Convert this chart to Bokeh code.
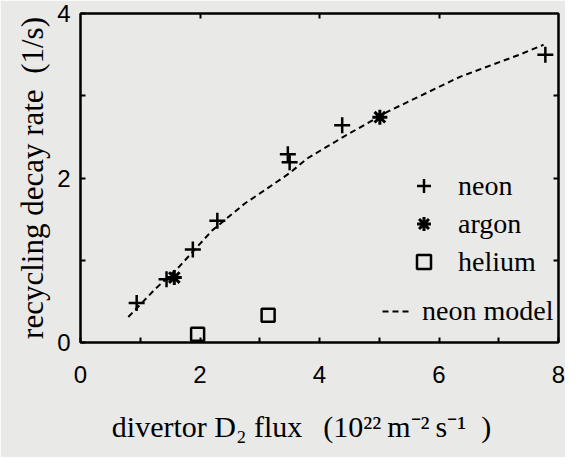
from bokeh.plotting import figure
from bokeh.models import Range1d, LinearAxis, FixedTicker, Legend, LegendItem
from bokeh.embed import file_html
from bokeh.resources import INLINE

# ---- data ----
neon_x = [0.94, 1.44, 1.88, 2.29, 3.47, 3.50, 4.38, 7.78]
neon_y = [0.48, 0.77, 1.13, 1.48, 2.29, 2.19, 2.64, 3.50]
argon_x = [1.57, 5.01]
argon_y = [0.79, 2.74]
helium_x = [1.96, 3.14]
helium_y = [0.10, 0.33]
model_x = [0.8, 1.25, 1.65, 2.2, 2.75, 3.1, 3.5, 3.8, 4.4, 5.15, 6.35, 7.35, 7.75]
model_y = [0.31, 0.65, 0.92, 1.36, 1.69, 1.86, 2.06, 2.24, 2.50, 2.81, 3.23, 3.50, 3.62]

x_ticks = [0, 1, 2, 3, 4, 5, 6, 7, 8]
x_labels = {0: "0", 1: "", 2: "2", 3: "", 4: "4", 5: "", 6: "6", 7: "", 8: "8"}
y_ticks = [0, 1, 2, 3, 4]
y_labels = {0: "0", 1: "", 2: "2", 3: "", 4: "4"}

x_title = ("divertor D\u2082 flux\u2002\u2009(10\u00b2\u00b2\u2009m\u207b\u00b2\u2009s\u207b\u00b9\u2002)"
           "\u2002\u2002\u2009")
y_title = "recycling decay rate\u2002(1/s)"

bg = "#e9e9e7"
serif = "Liberation Serif"
sans = "Liberation Sans"

p = figure(width=565, height=457, x_range=Range1d(0, 8), y_range=Range1d(0, 4),
           output_backend="svg", toolbar_location=None,
           min_border_left=80, min_border_right=7, min_border_top=13, min_border_bottom=115)
p.grid.visible = False
p.background_fill_color = bg
p.border_fill_color = bg
p.outline_line_color = "black"
p.outline_line_width = 2

def style_axis(ax):
    ax.axis_line_color = "black"
    ax.axis_line_width = 2
    ax.major_tick_in = 5
    ax.major_tick_out = 0
    ax.major_tick_line_width = 2
    ax.minor_tick_line_color = None
    ax.major_label_text_font = sans
    ax.major_label_text_font_size = "24px"
    ax.major_label_text_color = "black"
    ax.axis_label_text_font = serif
    ax.axis_label_text_font_style = "normal"
    ax.axis_label_text_color = "black"

xa = p.xaxis[0]
style_axis(xa)
xa.ticker = FixedTicker(ticks=x_ticks)
xa.major_label_overrides = x_labels
xa.major_label_standoff = 23
xa.axis_label = x_title
xa.axis_label_text_font_size = "30px"
xa.axis_label_standoff = 24

ya = p.yaxis[0]
style_axis(ya)
ya.ticker = FixedTicker(ticks=y_ticks)
ya.major_label_overrides = y_labels
ya.major_label_standoff = 10
ya.axis_label = y_title
ya.axis_label_text_font_size = "31px"
ya.axis_label_standoff = 4

top = LinearAxis(ticker=FixedTicker(ticks=[2, 4, 6]),
                 major_label_overrides={2: "", 4: "", 6: ""})
style_axis(top)
top.major_label_standoff = 0
p.add_layout(top, "above")

right = LinearAxis(ticker=FixedTicker(ticks=[1, 2, 3]),
                   major_label_overrides={1: "", 2: "", 3: ""})
style_axis(right)
right.major_label_standoff = 0
p.add_layout(right, "right")

r_model = p.line(model_x, model_y, line_color="black", line_width=2, line_dash="6 4")
r_neon = p.scatter(neon_x, neon_y, marker="cross", size=16, line_color="black", line_width=2.5)
r_argon = p.scatter(argon_x, argon_y, marker="asterisk", size=15, line_color="black", line_width=3)
r_helium = p.scatter(helium_x, helium_y, marker="square", size=13, line_color="black",
                     line_width=2.5, fill_color=None)

leg1 = Legend(items=[LegendItem(label="neon", renderers=[r_neon]),
                     LegendItem(label="argon", renderers=[r_argon]),
                     LegendItem(label="helium", renderers=[r_helium])],
              location=(326, 63), glyph_width=35, glyph_height=35, label_standoff=17,
              spacing=3, padding=0, margin=0, border_line_color=None,
              background_fill_alpha=0, label_text_font=serif, label_text_font_size="28px",
              label_text_color="black")
leg2 = Legend(items=[LegendItem(label="neon model", renderers=[r_model])],
              location=(302, 15), glyph_width=27, glyph_height=30, label_standoff=13,
              padding=0, margin=0, border_line_color=None,
              background_fill_alpha=0, label_text_font=serif, label_text_font_size="28px",
              label_text_color="black")
p.add_layout(leg1)
p.add_layout(leg2)

open("out.html", "w").write(file_html(p, INLINE))
